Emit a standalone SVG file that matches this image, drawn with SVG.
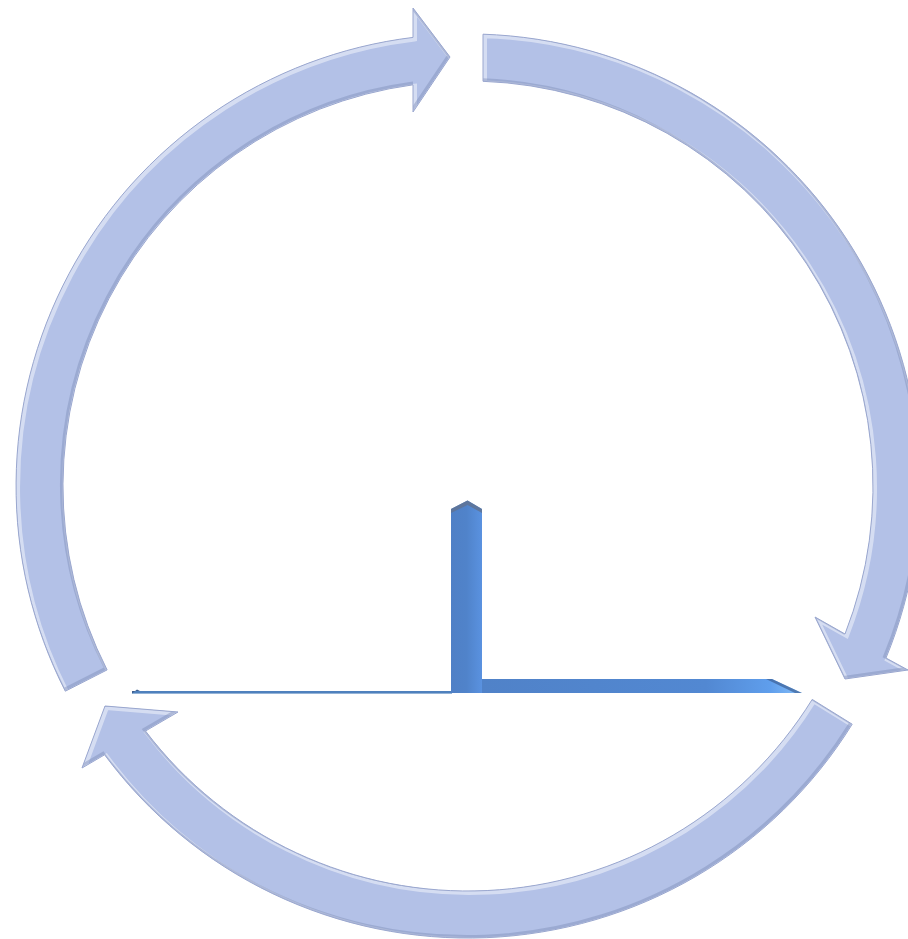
<svg xmlns="http://www.w3.org/2000/svg" width="908" height="939" viewBox="0 0 908 939">
<style>
.fill{fill:#B3C1E7;stroke:none}
.rim{fill:none;stroke:#FFFFFF;stroke-width:5;opacity:0.45}
.shade{fill:none;stroke:#7F8DB8;stroke-width:3;opacity:0.45}
.edge{fill:none;stroke:#9AA7CF;stroke-width:1}
</style>
<defs>
<path id="p1" d="M65.3,691.2 A452,452 0 0 1 413,37.4 L413,8 L450,57 L413,112 L413,84.8 A405,405 0 0 0 107.1,669.9 Z"/>
<path id="p2" d="M483,34.2 A452,452 0 0 1 886,658 L908,670 L845,679 L815,617 L845,634 A405,405 0 0 0 483,81.3 Z"/>
<path id="p3" d="M852.2,724.2 A452,452 0 0 1 104.6,754.8 L82,768 L105,706 L178,712 L145.5,731 A405,405 0 0 0 812.2,699.4 Z"/>
<clipPath id="c1"><use href="#p1"/></clipPath>
<clipPath id="c2"><use href="#p2"/></clipPath>
<clipPath id="c3"><use href="#p3"/></clipPath>
<linearGradient id="hbar" x1="482" y1="0" x2="802" y2="0" gradientUnits="userSpaceOnUse">
<stop offset="0" stop-color="#5082C8"/>
<stop offset="0.7" stop-color="#5288D2"/>
<stop offset="0.9" stop-color="#5F9EEC"/>
<stop offset="1" stop-color="#86BEF7"/>
</linearGradient>
<linearGradient id="vbar" x1="451" y1="0" x2="482" y2="0" gradientUnits="userSpaceOnUse">
<stop offset="0" stop-color="#4F80C6"/>
<stop offset="0.5" stop-color="#5083CA"/>
<stop offset="1" stop-color="#5A92E0"/>
</linearGradient>
</defs>

<g id="arrow1">
<use href="#p1" class="fill"/>
<g clip-path="url(#c1)"><use href="#p1" class="rim" transform="translate(1.5,1.5)"/><use href="#p1" class="shade" transform="translate(-1.5,-1.5)"/></g>
<use href="#p1" class="edge"/>
</g>
<g id="arrow2">
<use href="#p2" class="fill"/>
<g clip-path="url(#c2)"><use href="#p2" class="rim" transform="translate(1.5,1.5)"/><use href="#p2" class="shade" transform="translate(-1.5,-1.5)"/></g>
<use href="#p2" class="edge"/>
</g>
<g id="arrow3">
<use href="#p3" class="fill"/>
<g clip-path="url(#c3)"><use href="#p3" class="rim" transform="translate(1.5,1.5)"/><use href="#p3" class="shade" transform="translate(-1.5,-1.5)"/></g>
<use href="#p3" class="edge"/>
</g>

<g id="axes">
<rect x="132" y="691" width="320" height="2.6" fill="#4F81BD"/>
<path d="M132,693.6 L137,689.6 L140,691 L132,691 Z" fill="#3E5E8E"/>
<path d="M451,509 L467.5,500.5 L482,509 L482,693 L451,693 Z" fill="url(#vbar)"/>
<path d="M451,509 L467.5,500.5 L482,509 L482,513 L467.5,505 L451,513 Z" fill="#5F7394" opacity="0.85"/>
<path d="M482,679 L772,679 L802,693 L482,693 Z" fill="url(#hbar)"/>
<path d="M766,679 L772,679 L802,693 L795,693 Z" fill="#3C5F95" opacity="0.7"/>
</g>
<g id="connectors"/>
</svg>
